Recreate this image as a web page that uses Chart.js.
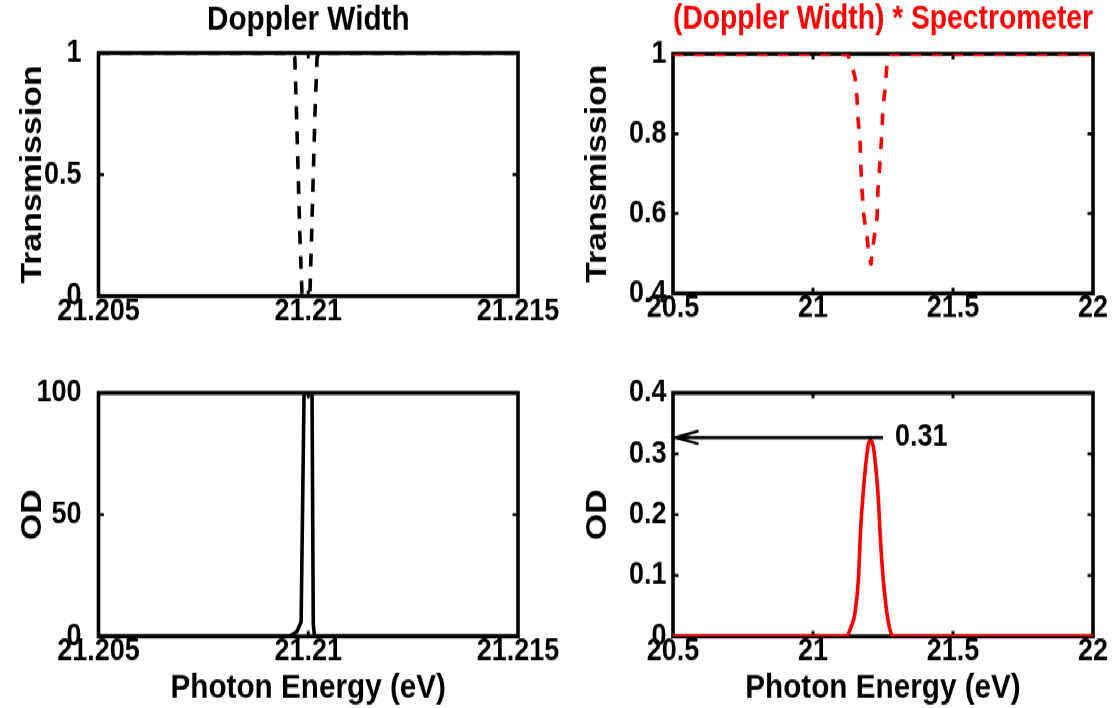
<!DOCTYPE html>
<html><head><meta charset="utf-8">
<script src="https://cdn.jsdelivr.net/npm/chart.js@4.4.1/dist/chart.umd.min.js"></script>
<style>
html,body{margin:0;padding:0;background:#fff;overflow:hidden;width:1119px;height:708px;}
#wrap{position:absolute;left:0;top:0;width:1119px;height:621px;transform:scaleY(1.140097);transform-origin:0 0;}
#wrap canvas{position:absolute;left:0;top:0;}
</style></head><body>
<div id="wrap">
<canvas id="cTL" width="1119" height="621"></canvas>
<canvas id="cTR" width="1119" height="621"></canvas>
<canvas id="cBL" width="1119" height="621"></canvas>
<canvas id="cBR" width="1119" height="621"></canvas>
</div>
<script>
// ---------------- data ----------------
const titleLeft = 'Doppler Width';
const titleRight = '(Doppler Width) * Spectrometer';
const yTitleTop = 'Transmission';
const yTitleBottom = 'OD';
const xTitleText = 'Photon Energy (eV)';

const narrowXTicks = [21.205, 21.21, 21.215];
const narrowXLabels = ['21.205', '21.21', '21.215'];
const wideXTicks = [20.5, 21, 21.5, 22];
const wideXLabels = ['20.5', '21', '21.5', '22'];

const tlYTicks = [0, 0.5, 1];
const tlYLabels = ['0', '0.5', '1'];
const trYTicks = [0.4, 0.6, 0.8, 1];
const trYLabels = ['0.4', '0.6', '0.8', '1'];
const blYTicks = [0, 50, 100];
const blYLabels = ['0', '50', '100'];
const brYTicks = [0, 0.1, 0.2, 0.3, 0.4];
const brYLabels = ['0', '0.1', '0.2', '0.3', '0.4'];

// Doppler-width transmission (top left)
const dopplerEnergy = [21.205, 21.2096, 21.20968, 21.20972, 21.20976, 21.2098, 21.20985, 21.20995, 21.21004, 21.21008, 21.21012, 21.21016, 21.21021, 21.21025, 21.215];
const dopplerTransmission = [1, 1, 0.98, 0.75, 0.5, 0.25, 0.01, 0, 0.01, 0.25, 0.5, 0.75, 0.98, 1, 1];

// Doppler-width OD (bottom left)
const dopplerODEnergy = [21.205, 21.20956, 21.20973, 21.20983, 21.2099, 21.21, 21.21009, 21.21012, 21.21015, 21.215];
const dopplerOD = [0, 0, 2, 6, 100, 150, 100, 5, 0, 0];

// convolved transmission (top right)
const convEnergy = [20.5, 21.1, 21.125, 21.143, 21.15, 21.157, 21.161, 21.168, 21.171, 21.175, 21.182, 21.193, 21.2, 21.207, 21.214, 21.229, 21.232, 21.239, 21.246, 21.25, 21.257, 21.264, 21.275, 22];
const convTransmission = [1, 1, 0.998, 0.96, 0.942, 0.892, 0.835, 0.785, 0.717, 0.659, 0.592, 0.542, 0.491, 0.474, 0.517, 0.592, 0.659, 0.727, 0.802, 0.867, 0.91, 0.972, 1, 1];

// convolved OD (bottom right)
const convODEnergy = [20.5, 21.12, 21.132, 21.15, 21.162, 21.17, 21.18, 21.189, 21.1975, 21.206, 21.215, 21.224, 21.233, 21.239, 21.249, 21.261, 21.275, 21.287, 22];
const convOD = [0, 0, 0.011, 0.039, 0.093, 0.175, 0.24, 0.285, 0.315, 0.322, 0.312, 0.279, 0.229, 0.175, 0.104, 0.049, 0.011, 0, 0];

// peak annotation (bottom right)
const peakArrowOD = 0.327;
const peakArrowFrom = 21.25;
const peakArrowTo = 20.5;
const peakLabel = '0.31';
const peakLabelEnergy = 21.293;

// ---------------- layout / style ----------------
// the canvas is drawn 621px tall and stretched vertically to 708px
const W = 1119, HI = 621, K = 708 / 621;
const py = v => v / K;               // page y -> canvas y
const FONT = "'Liberation Sans', Arial, Helvetica, sans-serif";
const TICK_FS = 27, LABEL_FS = 29.7;
const RED = '#ff0000';

function pts(xs, ys) { return xs.map((x, i) => ({x: x, y: ys[i]})); }
function font(size, lh) { return {family: FONT, size: size, weight: 'bold', lineHeight: lh || 1.2}; }

const boxPlugin = {
  id: 'boxFrame',
  beforeDatasetsDraw(chart) {
    const {ctx, chartArea: a} = chart;
    const xs = chart.scales.x, ys = chart.scales.y;
    ctx.save();
    ctx.strokeStyle = '#000';
    ctx.lineJoin = 'miter';
    ctx.lineWidth = 3.6;
    ctx.strokeRect(a.left, a.top, a.right - a.left, a.bottom - a.top);
    ctx.lineWidth = 3;
    ctx.beginPath();
    const tlx = py(5.5), tly = 5.5;
    xs.ticks.forEach(t => {
      const p = xs.getPixelForValue(t.value);
      if (p <= a.left + 2 || p >= a.right - 2) return;
      ctx.moveTo(p, a.bottom); ctx.lineTo(p, a.bottom - tlx);
      ctx.moveTo(p, a.top); ctx.lineTo(p, a.top + tlx);
    });
    ctx.stroke();
    ctx.lineWidth = 2.7;
    ctx.beginPath();
    ys.ticks.forEach(t => {
      const p = ys.getPixelForValue(t.value);
      if (p <= a.top + 2 || p >= a.bottom - 2) return;
      ctx.moveTo(a.left, p); ctx.lineTo(a.left + tly, p);
      ctx.moveTo(a.right, p); ctx.lineTo(a.right - tly, p);
    });
    ctx.stroke();
    ctx.restore();
  }
};

const arrowPlugin = {
  id: 'peakArrow',
  afterDatasetsDraw(chart) {
    const {ctx} = chart;
    const xs = chart.scales.x, ys = chart.scales.y;
    const y = ys.getPixelForValue(peakArrowOD);
    const x1 = xs.getPixelForValue(peakArrowFrom);
    const x0 = xs.getPixelForValue(peakArrowTo) + 2.5;
    ctx.save();
    ctx.strokeStyle = '#000';
    ctx.lineWidth = 3.0;
    ctx.beginPath(); ctx.moveTo(x1, y); ctx.lineTo(x0, y); ctx.stroke();
    ctx.lineWidth = 2.5;
    const hl = 23, hw = py(6.5);
    ctx.beginPath();
    ctx.moveTo(x0 + hl, y - hw); ctx.lineTo(x0, y); ctx.lineTo(x0 + hl, y + hw);
    ctx.stroke();
    ctx.fillStyle = '#000';
    ctx.font = 'bold ' + TICK_FS + 'px ' + FONT;
    ctx.textAlign = 'left';
    ctx.textBaseline = 'middle';
    ctx.fillText(peakLabel, xs.getPixelForValue(peakLabelEnergy), y);
    ctx.restore();
  }
};

function makeChart(id, o) {
  const left = o.box.left, right = o.box.right;
  const top = py(o.box.top), bottom = py(o.box.bottom);
  const yLH = LABEL_FS * 1.2;
  const padLeft = o.yTitleX - yLH / 2;
  const yWidth = left - padLeft;
  const padRight = W - right;
  let padTop, titleOpts;
  if (o.title) {
    padTop = 0;
    const tLH = LABEL_FS;
    const tp = py(o.titleY) - tLH / 2;
    titleOpts = {display: true, text: o.title, color: o.titleColor, fullSize: false, align: 'center',
      font: font(LABEL_FS, 1.0), padding: {top: tp, bottom: top - tp - tLH}};
  } else {
    padTop = top;
    titleOpts = {display: false};
  }
  let xHeight, padBottom;
  if (o.xTitle) {
    const sb = py(o.xTitleY) + LABEL_FS / 2;
    xHeight = sb - bottom;
    padBottom = HI - sb;
  } else {
    xHeight = 35;
    padBottom = HI - bottom - 35;
  }
  const plugins = [boxPlugin];
  if (o.arrow) plugins.push(arrowPlugin);
  return new Chart(document.getElementById(id), {
    type: 'line',
    data: {datasets: [{
      data: pts(o.xData, o.yData),
      borderColor: o.color,
      borderWidth: 3.6,
      borderDash: o.dash || [],
      pointRadius: 0,
      fill: false,
      tension: 0,
      cubicInterpolationMode: o.smooth ? 'monotone' : 'default',
      borderJoinStyle: 'round',
      borderCapStyle: 'butt'
    }]},
    options: {
      responsive: false,
      animation: false,
      devicePixelRatio: 1,
      events: [],
      layout: {autoPadding: false, padding: {left: padLeft, right: padRight, top: padTop, bottom: padBottom}},
      plugins: {legend: {display: false}, tooltip: {enabled: false}, title: titleOpts},
      scales: {
        x: {
          type: 'linear', min: o.xMin, max: o.xMax,
          grid: {display: false, drawTicks: false}, border: {display: false},
          afterBuildTicks: s => { s.ticks = o.xTicks.map(v => ({value: v})); },
          ticks: {autoSkip: false, maxRotation: 0, padding: 0, color: '#000', font: font(TICK_FS, 1.0),
            callback: (v, i) => o.xLabels[i]},
          title: o.xTitle ? {display: true, text: o.xTitle, color: '#000', font: font(LABEL_FS, 1.0), padding: 0} : {display: false},
          afterFit: s => { s.height = xHeight; }
        },
        y: {
          type: 'linear', min: o.yMin, max: o.yMax,
          grid: {display: false, drawTicks: false}, border: {display: false},
          afterBuildTicks: s => { s.ticks = o.yTicks.map(v => ({value: v})); },
          ticks: {autoSkip: false, padding: o.yPad, color: '#000', font: font(TICK_FS, 1.0),
            callback: (v, i) => o.yLabels[i]},
          title: {display: true, text: o.yTitle, color: '#000', font: font(LABEL_FS), padding: 0},
          afterFit: s => { s.width = yWidth; }
        }
      }
    },
    plugins: plugins
  });
}

makeChart('cTL', {
  box: {left: 98.5, right: 518, top: 53, bottom: 296}, yTitleX: 33,
  title: titleLeft, titleColor: '#000', titleY: 20,
  xMin: 21.205, xMax: 21.215, xTicks: narrowXTicks, xLabels: narrowXLabels,
  yMin: 0, yMax: 1, yTicks: tlYTicks, yLabels: tlYLabels, yTitle: yTitleTop, yPad: 17,
  xData: dopplerEnergy, yData: dopplerTransmission, color: '#000', dash: [11.4, 10.5]
});
makeChart('cTR', {
  box: {left: 673, right: 1093, top: 54, bottom: 293.5}, yTitleX: 598,
  title: titleRight, titleColor: RED, titleY: 19,
  xMin: 20.5, xMax: 22, xTicks: wideXTicks, xLabels: wideXLabels,
  yMin: 0.4, yMax: 1, yTicks: trYTicks, yLabels: trYLabels, yTitle: yTitleTop, yPad: 6.5,
  xData: convEnergy, yData: convTransmission, color: RED, dash: [10.5, 10.5]
});
makeChart('cBL', {
  box: {left: 98.5, right: 518, top: 393, bottom: 636.5}, yTitleX: 33,
  xTitle: xTitleText, xTitleY: 688,
  xMin: 21.205, xMax: 21.215, xTicks: narrowXTicks, xLabels: narrowXLabels,
  yMin: 0, yMax: 100, yTicks: blYTicks, yLabels: blYLabels, yTitle: yTitleBottom, yPad: 17,
  xData: dopplerODEnergy, yData: dopplerOD, color: '#000'
});
makeChart('cBR', {
  box: {left: 673, right: 1093, top: 393, bottom: 636.5}, yTitleX: 598,
  xTitle: xTitleText, xTitleY: 688,
  xMin: 20.5, xMax: 22, xTicks: wideXTicks, xLabels: wideXLabels,
  yMin: 0, yMax: 0.4, yTicks: brYTicks, yLabels: brYLabels, yTitle: yTitleBottom, yPad: 6.5,
  xData: convODEnergy, yData: convOD, color: RED, smooth: true, arrow: true
});
</script>
</body></html>
